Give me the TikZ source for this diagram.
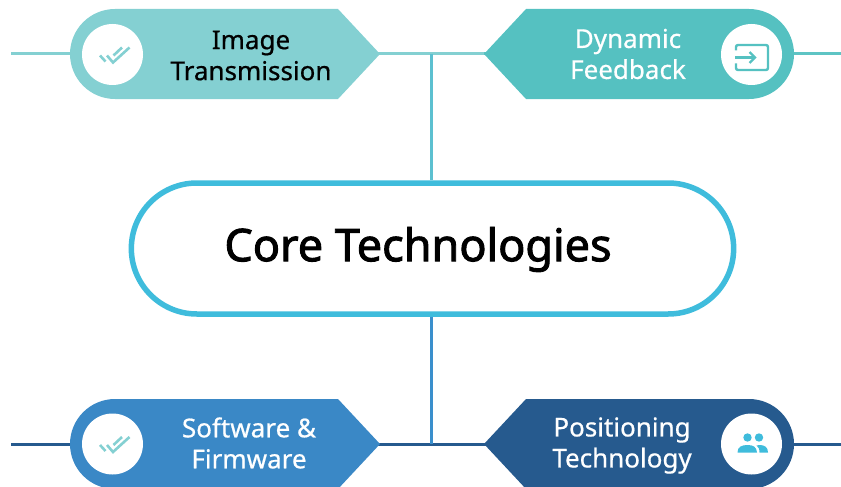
\documentclass[tikz,border=0pt]{standalone}
\usepackage{xcolor}
\usepackage{fontspec}
\setmainfont[FakeBold=0.6]{Noto Sans}
\newfontfamily\corefont[FakeBold=2]{Noto Sans}
\usetikzlibrary{shapes.misc}

\definecolor{imagecol}{HTML}{84D0D2}
\definecolor{dynamiccol}{HTML}{55C1C1}
\definecolor{softwarecol}{HTML}{3A88C6}
\definecolor{positioncol}{HTML}{265A8E}
\definecolor{corecol}{HTML}{3FBCDC}
\definecolor{topstem}{HTML}{5CC0D0}
\definecolor{lowstem}{HTML}{3A8FCC}

% tip at (#3,#4), #2 = 1 points right, -1 points left
\newcommand{\tagshape}[4]{
  \fill[#1,shift={(#3,#4)},xscale=#2] (0,0) -- (-42,-45)
    {[rounded corners=45pt] -- (-310,-45) -- (-310,45)} -- (-42,45) -- cycle;
}

\begin{document}
\begin{tikzpicture}[
  x=1pt, y=-1pt,
  link/.style={line width=3pt},
  tagtext/.style={font=\fontsize{26}{31}\selectfont, align=center, inner sep=0pt},
  badge/.style={circle, fill=white, minimum size=61pt, inner sep=0pt},
  tick/.style={line width=2.6pt, draw=imagecol}
]
  \clip (0,0) rectangle (841,487);

  \node (core) at (432.5,248.5) [rounded rectangle, draw=corecol, line width=5.5pt,
    fill=white, minimum width=609pt, minimum height=131pt] {};
  \node (coretext) at (418,249.5) [inner sep=0pt, font=\corefont\fontsize{45}{50}\selectfont] {Core Technologies};

  % joints and free ends
  \coordinate (topjoin) at (431,54);
  \coordinate (lowjoin) at (431,444);
  \coordinate (imageend) at (11,54);
  \coordinate (imagetip) at (380,54);
  \coordinate (dynamictip) at (484,54);
  \coordinate (dynamicend) at (841,54);
  \coordinate (softwareend) at (11,444);
  \coordinate (softwaretip) at (380,444);
  \coordinate (positiontip) at (484,444);
  \coordinate (positionend) at (841,444);

  \draw[link, imagecol] (imageend) -- (imagetip) -- (dynamictip);
  \draw[link, dynamiccol!80!imagecol] (dynamictip) -- (dynamicend);
  \draw[link, positioncol] (softwareend) -- (positionend);
  \draw[link, topstem] (topjoin) -- (topjoin |- core.north);
  \draw[link, lowstem] (lowjoin) -- (lowjoin |- core.south);

  \tagshape{imagecol}{1}{380}{54}
  \tagshape{dynamiccol}{-1}{484}{54}
  \tagshape{softwarecol}{1}{380}{444}
  \tagshape{positioncol}{-1}{484}{444}

  \node (image) at (251,55.5) [tagtext, text=black] {Image\\Transmission};
  \node (dynamic) at (628,54) [tagtext, text=white] {Dynamic\\Feedback};
  \node (software) at (249,443) [tagtext, text=white] {Software \&\\Firmware};
  \node (position) at (622,445.5) [tagtext, text=white] {Positioning\\Technology};

  \node (imagebadge) at (112.5,54.5) [badge] {};
  \node (dynamicbadge) at (751.5,54.5) [badge] {};
  \node (softwarebadge) at (112.5,444) [badge] {};
  \node (positionbadge) at (751.5,444) [badge] {};

  % double ticks
  \foreach \name in {imagebadge, softwarebadge} {
    \begin{scope}[shift={(\name.center)}]
      \draw[tick] (-12.5,1) -- (-7,7);
      \draw[tick] (-5.5,1) -- (0.5,8) -- (17,-7);
      \draw[tick] (1,1) -- (9.5,-7);
    \end{scope}
  }

  % enter icon
  \begin{scope}[shift={(dynamicbadge.center)}]
    \draw[line width=2.4pt, dynamiccol, rounded corners=2pt]
      (-15.5,-4) -- (-15.5,-9.5) -- (16.5,-9.5) -- (16.5,15.5) -- (-15.5,15.5) -- (-15.5,9);
    \draw[line width=2.4pt, dynamiccol] (-16.5,3) -- (2,3);
    \draw[line width=2.4pt, dynamiccol] (-2,-2.5) -- (3.5,3) -- (-2,8.5);
  \end{scope}

  % people icon
  \begin{scope}[shift={(positionbadge.center)}]
    \fill[corecol] (7.5,-6.5) circle (4.2pt);
    \fill[corecol] (-4,-6.5) circle (4.2pt);
    \fill[corecol] (8,1) .. controls (13,1) and (16.5,3) .. (16.5,8.5) -- (8,8.5)
      .. controls (8,5) and (7,3) .. (5,1.5) -- cycle;
    \fill[corecol] (-14,8.5) .. controls (-14,3) and (-10,1) .. (-4,1)
      .. controls (2,1) and (5,3) .. (5.5,8.5) -- cycle;
  \end{scope}
\end{tikzpicture}
\end{document}
